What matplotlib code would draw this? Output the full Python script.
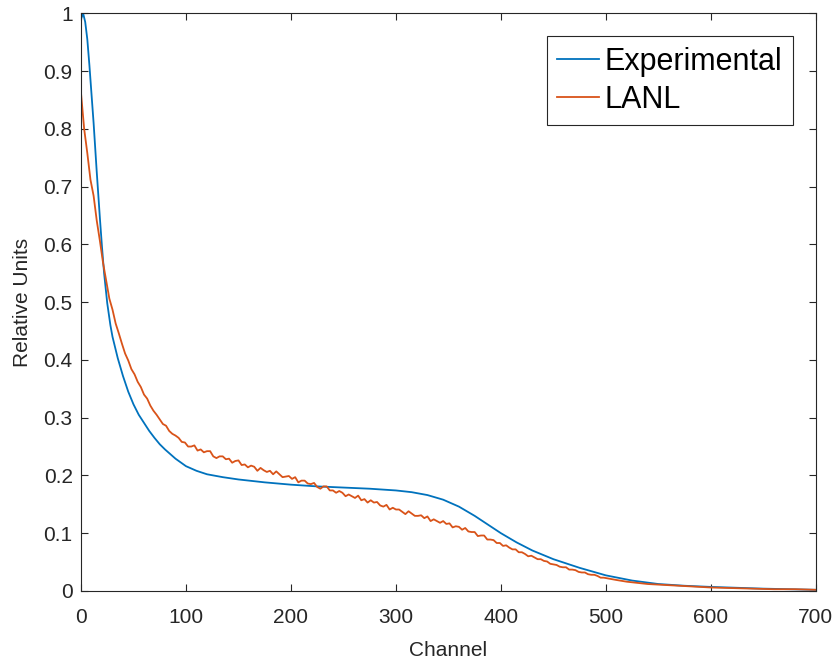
import numpy as np
import matplotlib.pyplot as plt
from matplotlib.ticker import FuncFormatter

# Experimental spectrum (smooth)
exp_channel = [0, 2, 4, 6, 8, 10, 12, 15, 18, 20, 22, 25, 28, 30, 35, 40, 45, 50, 55,
               60, 65, 70, 75, 80, 90, 100, 110, 120, 135, 150, 175, 200, 225, 250,
               275, 300, 315, 330, 345, 360, 375, 390, 400, 415, 430, 450, 475, 500,
               525, 550, 575, 600, 650, 700]
exp_values = [0.990, 1.000, 0.985, 0.955, 0.910, 0.860, 0.810, 0.725, 0.645, 0.595,
              0.550, 0.498, 0.460, 0.440, 0.403, 0.372, 0.345, 0.323, 0.305,
              0.291, 0.277, 0.265, 0.254, 0.245, 0.229, 0.216, 0.208, 0.202, 0.197,
              0.193, 0.188, 0.184, 0.181, 0.179, 0.177, 0.174, 0.171, 0.166, 0.158,
              0.146, 0.130, 0.112, 0.100, 0.084, 0.070, 0.055, 0.040, 0.027,
              0.018, 0.012, 0.009, 0.007, 0.004, 0.002]

# LANL spectrum (noisy): every 3 channels up to 501, then coarser
lanl_channel = list(range(0, 502, 3)) + [510, 520, 530, 540, 550, 560, 570, 580,
                                         590, 600, 620, 640, 660, 680, 700]
lanl_values = [
    # 0 - 90
    0.862, 0.800, 0.758, 0.712, 0.684, 0.641, 0.606, 0.568, 0.537, 0.506,
    0.487, 0.463, 0.446, 0.428, 0.411, 0.399, 0.384, 0.375, 0.362, 0.353,
    0.340, 0.333, 0.321, 0.312, 0.305, 0.297, 0.289, 0.286, 0.277, 0.272,
    0.269,
    # 93 - 198
    0.265, 0.258, 0.257, 0.250, 0.250, 0.252, 0.243, 0.245, 0.240, 0.242,
    0.242, 0.233, 0.230, 0.233, 0.233, 0.228, 0.229, 0.222, 0.225, 0.226,
    0.218, 0.219, 0.214, 0.217, 0.215, 0.208, 0.213, 0.209, 0.206, 0.208,
    0.202, 0.207, 0.202, 0.197, 0.198, 0.199,
    # 201 - 300
    0.194, 0.197, 0.188, 0.191, 0.191, 0.186, 0.185, 0.187, 0.180, 0.177,
    0.181, 0.181, 0.174, 0.174, 0.170, 0.173, 0.170, 0.164, 0.167, 0.164,
    0.161, 0.165, 0.157, 0.159, 0.153, 0.157, 0.153, 0.154, 0.148, 0.146,
    0.149, 0.141, 0.144, 0.141,
    # 303 - 399
    0.141, 0.137, 0.133, 0.138, 0.134, 0.130, 0.130, 0.131, 0.126, 0.129,
    0.121, 0.124, 0.121, 0.118, 0.121, 0.116, 0.117, 0.110, 0.112, 0.111,
    0.106, 0.109, 0.103, 0.102, 0.102, 0.095, 0.096, 0.096, 0.089, 0.089,
    0.088, 0.083, 0.083,
    # 402 - 501
    0.078, 0.079, 0.075, 0.072, 0.072, 0.067, 0.067, 0.064, 0.060, 0.061,
    0.058, 0.055, 0.055, 0.052, 0.051, 0.047, 0.046, 0.045, 0.042, 0.041,
    0.041, 0.037, 0.037, 0.036, 0.033, 0.032, 0.032, 0.029, 0.028, 0.028,
    0.026, 0.023, 0.023, 0.022,
    # 510 - 700
    0.019, 0.016, 0.014, 0.012, 0.011, 0.010, 0.009, 0.008, 0.007, 0.006,
    0.005, 0.004, 0.003, 0.003, 0.002,
]

x_ticks = [0, 100, 200, 300, 400, 500, 600, 700]
y_ticks = [0, 0.1, 0.2, 0.3, 0.4, 0.5, 0.6, 0.7, 0.8, 0.9, 1.0]

plt.rcParams['font.family'] = ['Liberation Sans', 'DejaVu Sans']
axis_col = '#262626'

fig = plt.figure(figsize=(8.36, 6.64), dpi=100)
ax = fig.add_axes([0.0969, 0.110, 0.879, 0.870])

ax.plot(exp_channel, exp_values, color='#0072BD', lw=1.3, label='Experimental')
ax.plot(lanl_channel, lanl_values, color='#D95319', lw=1.3, label='LANL')

ax.set_xlim(0, 700)
ax.set_ylim(0, 1)
ax.set_xticks(x_ticks)
ax.set_yticks(y_ticks)
ax.yaxis.set_major_formatter(FuncFormatter(lambda v, p: f'{v:g}'))
ax.tick_params(direction='in', length=5, width=0.8, top=True, right=True,
               labelsize=15, colors=axis_col)
ax.tick_params(axis='x', pad=12)
ax.tick_params(axis='y', pad=6)
for s in ax.spines.values():
    s.set_color(axis_col)
    s.set_linewidth(0.8)

ax.set_xlabel('Channel', fontsize=15, color=axis_col, labelpad=10)
ax.set_ylabel('Relative Units', fontsize=15, color=axis_col, labelpad=8)

leg = ax.legend(loc='upper right', fontsize=22, frameon=True, fancybox=False,
                edgecolor=axis_col, framealpha=1, borderaxespad=0.75,
                handlelength=1.35, handletextpad=0.2, borderpad=0.35,
                labelspacing=0.25)
leg.get_frame().set_linewidth(0.8)

fig.savefig('out.png', dpi=100)
